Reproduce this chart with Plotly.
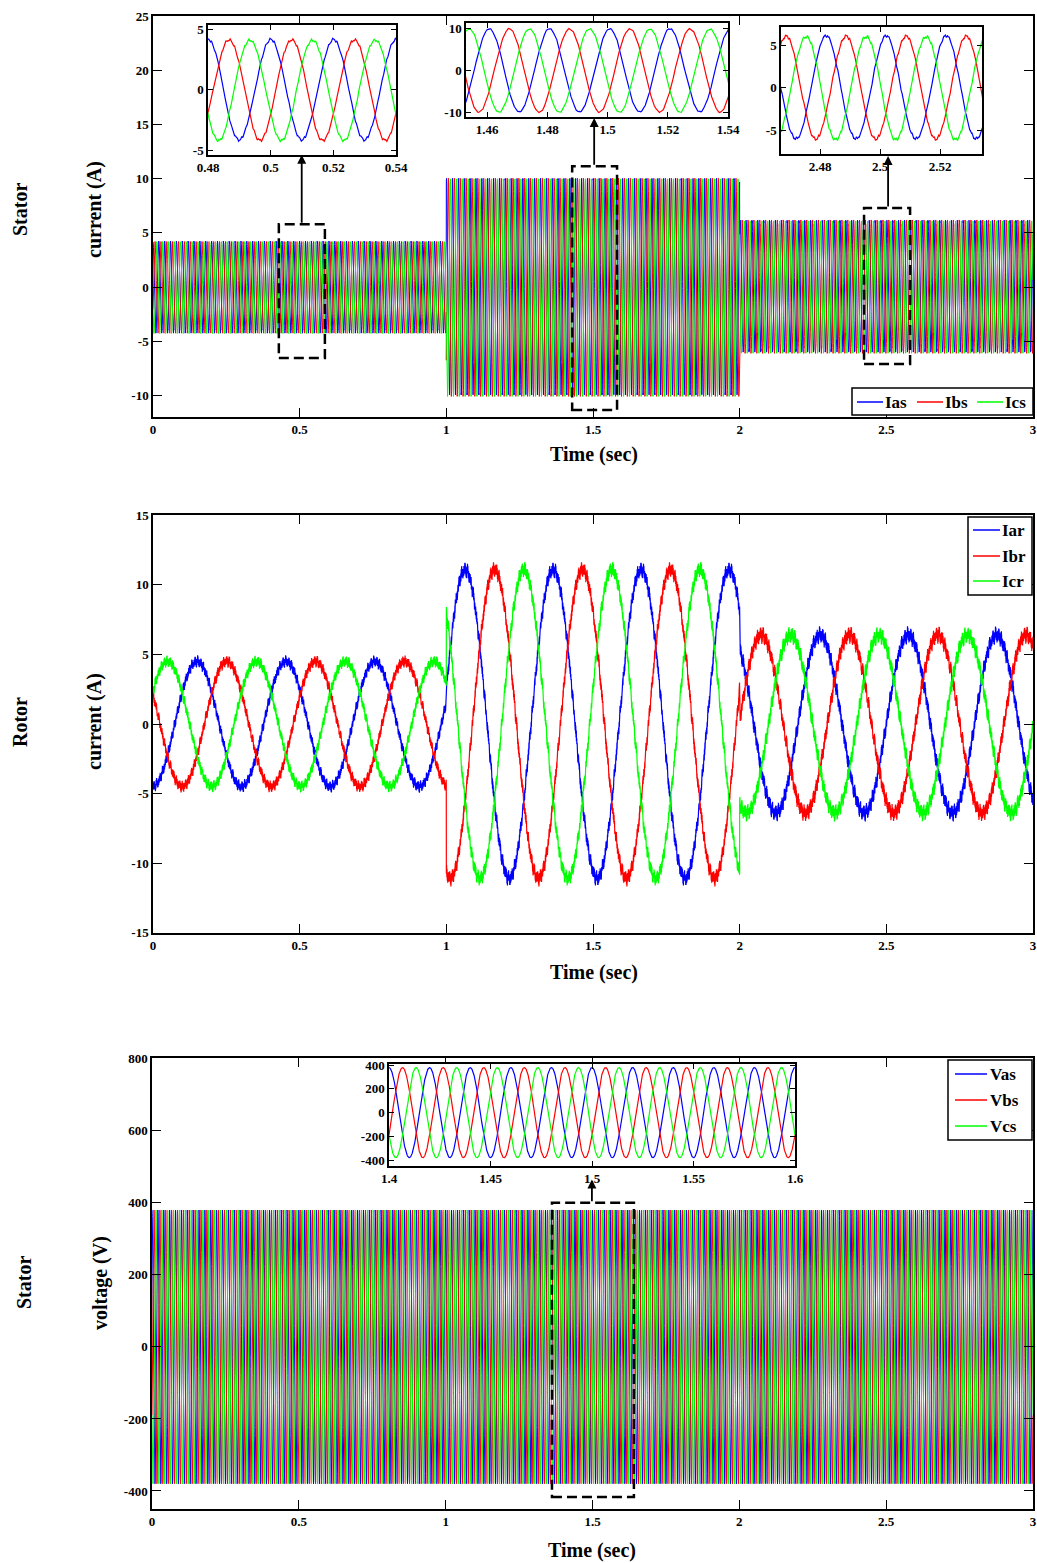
import numpy as np
import plotly.graph_objects as go

# ---------------------------------------------------------------- data
# operating segments (s)
seg_edges = [0.0, 1.0, 2.0, 3.0]

# stator currents Ias/Ibs/Ics : 50 Hz, per-segment peak (A), ripple (A), time of an Ias peak (s)
stator_freq = 50.0
is_amp = [4.15, 10.0, 6.0]
is_ripple = [0.18, 0.22, 0.30]
is_peak_t = [0.5000, 1.5007, 2.5020]

# rotor currents Iar/Ibr/Icr : per-segment peak (A), ripple (A), period (s), time of an Iar peak (s)
ir_amp = [4.5, 11.1, 6.4]
ir_ripple = [0.45, 0.6, 0.65]
ir_period = [0.303, 0.300, 0.301]
ir_peak_t = [0.150, 1.064, 2.274]

# stator voltages Vas/Vbs/Vcs : 50 Hz, peak (V), time of a Vas peak (s)
vs_amp = 380.0
vs_peak_t = 1.400

# high-frequency ripple content (Hz) and weights
ripple_freqs = [100.0, 650.0, 1450.0]
ripple_weights = [0.30, 0.40, 0.30]

# names, colours
stator_i_names = ["Ias", "Ibs", "Ics"]
rotor_i_names = ["Iar", "Ibr", "Icr"]
stator_v_names = ["Vas", "Vbs", "Vcs"]
phase_colors = ["#0000ff", "#ff0000", "#00ff00"]

# zoom windows (s)
zoom_is = [(0.48, 0.54), (1.453, 1.54), (2.467, 2.534)]
zoom_vs = (1.40, 1.60)

# ---------------------------------------------------------------- signals
def three_phase(t, amps, ripples, periods, peaks):
    idx = np.clip(np.searchsorted(seg_edges, t, side="right") - 1, 0, len(amps) - 1)
    A = np.asarray(amps, float)[idx]
    R = np.asarray(ripples, float)[idx]
    T = np.asarray(periods, float)[idx]
    P = np.asarray(peaks, float)[idx]
    out = []
    for k in range(3):
        theta = 2 * np.pi * (t - P) / T - 2 * np.pi * k / 3
        rip = np.zeros_like(t)
        for j, (f, w) in enumerate(zip(ripple_freqs, ripple_weights)):
            rip += w * np.sin(2 * np.pi * f * t + 1.3 * k + 2.1 * j + 0.4 * k * j)
        out.append(A * np.cos(theta) + R * rip)
    return out


def stator_currents(t):
    return three_phase(t, is_amp, is_ripple, [1 / stator_freq] * 3, is_peak_t)


def rotor_currents(t):
    return three_phase(t, ir_amp, ir_ripple, ir_period, ir_peak_t)


def stator_voltages(t):
    return three_phase(t, [vs_amp] * 3, [0.0] * 3, [1 / stator_freq] * 3, [vs_peak_t] * 3)


t_main = np.linspace(0, 3, 12001)
t_rot = np.linspace(0, 3, 18001)

# ---------------------------------------------------------------- layout helpers
W, H = 1037, 1563
FONT = "Liberation Serif"


def px(x):
    return x / W


def py(y):
    return 1 - y / H


def ticks(vals, fmt="{:g}"):
    # plain hyphen-minus for negative labels
    return dict(tickvals=vals, ticktext=[fmt.format(v) for v in vals])


def ax_style(**kw):
    d = dict(showline=True, linecolor="black", linewidth=1.5, mirror="allticks",
             ticks="inside", ticklen=9, tickwidth=1.2, tickcolor="black",
             showgrid=False, zeroline=False, automargin=False,
             tickfont=dict(family=FONT, size=13, color="black", weight="bold"))
    d.update(kw)
    return d


fig = go.Figure()

main_x = ticks([0, 0.5, 1, 1.5, 2, 2.5, 3])

# ---- panel 1: stator currents
for k, y in enumerate(stator_currents(t_main)):
    fig.add_trace(go.Scatter(x=t_main, y=y, mode="lines", name=stator_i_names[k],
                             line=dict(color=phase_colors[k], width=1),
                             xaxis="x", yaxis="y", showlegend=False))
# ---- panel 2: rotor currents
for k, y in enumerate(rotor_currents(t_rot)):
    fig.add_trace(go.Scatter(x=t_rot, y=y, mode="lines", name=rotor_i_names[k],
                             line=dict(color=phase_colors[k], width=1.2),
                             xaxis="x2", yaxis="y2", showlegend=False))
# ---- panel 3: stator voltages
for k, y in enumerate(stator_voltages(t_main)):
    fig.add_trace(go.Scatter(x=t_main, y=y, mode="lines", name=stator_v_names[k],
                             line=dict(color=phase_colors[k], width=1),
                             xaxis="x3", yaxis="y3", showlegend=False))

# ---- zoomed views of the stator currents
for n, (a, b) in enumerate(zoom_is):
    tz = np.linspace(a - 0.002, b + 0.002, 3000)
    for k, y in enumerate(stator_currents(tz)):
        fig.add_trace(go.Scatter(x=tz, y=y, mode="lines", showlegend=False,
                                 name=stator_i_names[k],
                                 line=dict(color=phase_colors[k], width=1.2),
                                 xaxis=f"x{4 + n}", yaxis=f"y{4 + n}"))
# ---- zoomed view of the stator voltages
tz = np.linspace(zoom_vs[0], zoom_vs[1], 3000)
for k, y in enumerate(stator_voltages(tz)):
    fig.add_trace(go.Scatter(x=tz, y=y, mode="lines", showlegend=False,
                             name=stator_v_names[k],
                             line=dict(color=phase_colors[k], width=1.2),
                             xaxis="x7", yaxis="y7"))

layout = dict(
    width=W, height=H, margin=dict(l=0, r=0, t=0, b=0, autoexpand=False),
    paper_bgcolor="white", plot_bgcolor="white", showlegend=False,
    font=dict(family=FONT, color="black"),
    xaxis=ax_style(domain=[px(153), px(1033)], range=[0, 3], anchor="y", **main_x),
    yaxis=ax_style(domain=[py(417), py(16)], range=[-12, 25.02], anchor="x",
                   **ticks([-10, -5, 0, 5, 10, 15, 20, 25])),
    xaxis2=ax_style(domain=[px(153), px(1033)], range=[0, 3], anchor="y2", **main_x),
    yaxis2=ax_style(domain=[py(933), py(515)], range=[-15.02, 15.02], anchor="x2",
                    **ticks([-15, -10, -5, 0, 5, 10, 15])),
    xaxis3=ax_style(domain=[px(152), px(1033)], range=[0, 3], anchor="y3", **main_x),
    yaxis3=ax_style(domain=[py(1509), py(1058)], range=[-450, 802], anchor="x3",
                    **ticks([-400, -200, 0, 200, 400, 600, 800])),
    # insets
    xaxis4=ax_style(domain=[px(208), px(396)], range=[0.48, 0.54], anchor="y4", ticklen=5,
                    **ticks([0.48, 0.5, 0.52, 0.54])),
    yaxis4=ax_style(domain=[py(155), py(25)], range=[-5.4, 5.35], anchor="x4", ticklen=5,
                    **ticks([-5, 0, 5])),
    xaxis5=ax_style(domain=[px(466), px(728)], range=[1.453, 1.54], anchor="y5", ticklen=5,
                    **ticks([1.46, 1.48, 1.5, 1.52, 1.54])),
    yaxis5=ax_style(domain=[py(117), py(23)], range=[-11.2, 11.4], anchor="x5", ticklen=5,
                    **ticks([-10, 0, 10])),
    xaxis6=ax_style(domain=[px(781), px(982)], range=[2.467, 2.534], anchor="y6", ticklen=5,
                    **ticks([2.48, 2.5, 2.52])),
    yaxis6=ax_style(domain=[py(154), py(27)], range=[-7.7, 7.1], anchor="x6", ticklen=5,
                    **ticks([-5, 0, 5])),
    xaxis7=ax_style(domain=[px(389), px(795)], range=[1.4, 1.6], anchor="y7", ticklen=5,
                    **ticks([1.4, 1.45, 1.5, 1.55, 1.6])),
    yaxis7=ax_style(domain=[py(1166), py(1064)], range=[-450, 410], anchor="x7", ticklen=5,
                    **ticks([-400, -200, 0, 200, 400])),
)

# dashed zoom boxes and arrows
boxes = [
    dict(xr="x", yr="y", x0=0.429, x1=0.586, y0=-6.55, y1=5.8, ax=0.507, tip=12.2),
    dict(xr="x", yr="y", x0=1.429, x1=1.582, y0=-11.35, y1=11.16, ax=1.504, tip=15.6),
    dict(xr="x", yr="y", x0=2.424, x1=2.581, y0=-7.1, y1=7.3, ax=2.506, tip=12.1),
    dict(xr="x3", yr="y3", x0=1.362, x1=1.641, y0=-417, y1=400, ax=1.498, tip=465),
]
shapes, annotations = [], []
for b in boxes:
    shapes.append(dict(type="rect", xref=b["xr"], yref=b["yr"], x0=b["x0"], x1=b["x1"],
                       y0=b["y0"], y1=b["y1"],
                       line=dict(color="black", width=2.5, dash="10px,5px")))
    annotations.append(dict(xref=b["xr"], yref=b["yr"], axref=b["xr"], ayref=b["yr"],
                            x=b["ax"], y=b["tip"], ax=b["ax"], ay=b["y1"], text="",
                            showarrow=True, arrowhead=2, arrowsize=1, arrowwidth=1.8,
                            arrowcolor="black"))

# legends: framed boxes with line samples and bold labels (pixel positions)
legend_font = dict(family=FONT, size=17, color="black", weight="bold")
legends = [
    # box (x0, y0, x1, y1), entries (line x0, line x1, line y, text x)
    ((852, 388, 1033, 415), stator_i_names,
     [(857, 883, 402, 884), (917, 943, 402, 944), (977, 1003, 402, 1004)]),
    ((968, 517, 1032, 595), rotor_i_names,
     [(973, 1000, 530, 1001), (973, 1000, 556, 1001), (973, 1000, 581, 1001)]),
    ((948, 1060, 1032, 1140), stator_v_names,
     [(955, 987, 1074, 989), (955, 987, 1100, 989), (955, 987, 1126, 989)]),
]
for (bx0, by0, bx1, by1), names, entries in legends:
    shapes.append(dict(type="rect", xref="paper", yref="paper", x0=px(bx0), x1=px(bx1),
                       y0=py(by1), y1=py(by0), fillcolor="white",
                       line=dict(color="black", width=1.5), layer="above"))
    for k, (lx0, lx1, ly, tx) in enumerate(entries):
        shapes.append(dict(type="line", xref="paper", yref="paper", x0=px(lx0), x1=px(lx1),
                           y0=py(ly), y1=py(ly), line=dict(color=phase_colors[k], width=1.5),
                           layer="above"))
        annotations.append(dict(xref="paper", yref="paper", x=px(tx), y=py(ly), text=names[k],
                                showarrow=False, font=legend_font, xanchor="left",
                                yanchor="middle", borderpad=0))

# axis titles
title_font = dict(family=FONT, size=20, color="black", weight="bold")
for text, x, y, ang in [
    ("Stator", 20, 210, -90), ("current (A)", 95, 210, -90),
    ("Rotor", 20, 722, -90), ("current (A)", 95, 722, -90),
    ("Stator", 24, 1283, -90), ("voltage (V)", 100, 1283, -90),
    ("Time (sec)", 594, 454, 0), ("Time (sec)", 594, 972, 0), ("Time (sec)", 592, 1550, 0),
]:
    annotations.append(dict(xref="paper", yref="paper", x=px(x), y=py(y), text=text,
                            textangle=ang, showarrow=False, font=title_font,
                            xanchor="center", yanchor="middle"))

layout["shapes"] = shapes
layout["annotations"] = annotations
fig.update_layout(**layout)
fig.write_html("out.html")
